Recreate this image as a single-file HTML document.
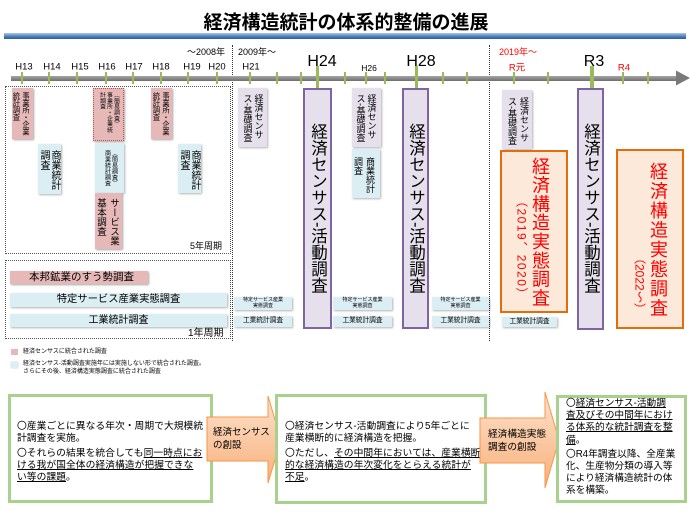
<!DOCTYPE html>
<html><head><meta charset="utf-8">
<style>
body{margin:0;width:690px;height:517px;background:#fff;position:relative;overflow:hidden;font-family:"Liberation Sans","Noto Sans CJK JP",sans-serif;color:#000}
.a{position:absolute}
.c{position:absolute;transform:translate(-50%,-50%);white-space:nowrap;line-height:1}
.v{position:absolute;writing-mode:vertical-rl;text-orientation:mixed;white-space:nowrap}
.pk{position:absolute;background:#e6b9b8;box-shadow:1px 1px 2px rgba(0,0,0,.35)}
.bl{position:absolute;background:#dbeef4;box-shadow:1px 1px 2px rgba(0,0,0,.3)}
.lv{position:absolute;background:#e6e0ec;box-shadow:1px 1px 2px rgba(0,0,0,.3)}
.pu{position:absolute;background:#e6e0ec;border:2px solid #8064a2;box-sizing:border-box}
.or{position:absolute;background:#fde9d9;border:2.5px solid #e46c0a;box-sizing:border-box}
.gb{position:absolute;border:3px solid #a9d18e;box-sizing:border-box;background:#fff}
.t{position:absolute;height:4.5px;top:76px}
.tk{position:absolute;background:#9bbb59;width:2px;top:72px;height:12px}
.tb{position:absolute;background:#9bbb59;width:3.5px;top:66px;height:23px}
.yl{position:absolute;transform:translate(-50%,-50%);font-size:9.5px;line-height:1;top:67px;white-space:nowrap}
.yb{position:absolute;transform:translate(-50%,-50%);font-size:16px;line-height:1;top:62px;white-space:nowrap}
.sm{display:flex;align-items:center;justify-content:center;text-align:center;white-space:nowrap}
.bt{position:absolute;white-space:nowrap;font-size:9.8px;line-height:12.3px}
.o{font-family:"Noto Sans CJK JP",sans-serif}
u{text-decoration:underline;text-decoration-thickness:1px;text-underline-offset:1px}
</style></head><body>

<!-- title -->
<div class="c" style="left:346px;top:23px;font-size:19px;font-weight:bold;">経済構造統計の体系的整備の進展</div>
<div class="a" style="left:4px;top:33px;width:682px;height:6px;background:linear-gradient(#a9c8ea,#4f81bd 55%,#2f5a8f);"></div>

<!-- era labels -->
<div class="a" style="left:187px;top:47px;font-size:9px;line-height:10px;white-space:nowrap">～2008年</div>
<div class="a" style="left:238px;top:47px;font-size:9px;line-height:10px;white-space:nowrap">2009年～</div>
<div class="a" style="left:499px;top:47px;font-size:9px;line-height:10px;white-space:nowrap;color:#f00">2019年～</div>

<!-- dividers -->
<div class="a" style="left:232px;top:45px;height:296px;border-left:1.5px dotted #333"></div>
<div class="a" style="left:489px;top:45px;height:296px;border-left:1.5px dotted #333"></div>

<!-- timeline -->
<div class="t" style="left:11px;width:667px;background:linear-gradient(#a6a6a6,#6e6e6e)"></div>
<svg class="a" style="left:0;top:0" width="690" height="100"><polygon points="676,70.5 690,78 676,85.5" fill="#7a7a7a"/></svg>

<div class="tk" style="left:21px"></div><div class="tk" style="left:48px"></div><div class="tk" style="left:76px"></div>
<div class="tk" style="left:105px"></div><div class="tk" style="left:132px"></div><div class="tk" style="left:160px"></div>
<div class="tk" style="left:187px"></div><div class="tk" style="left:216px"></div><div class="tk" style="left:249px"></div>
<div class="tk" style="left:276px"></div><div class="tk" style="left:300px"></div><div class="tk" style="left:344px"></div>
<div class="tk" style="left:365px"></div><div class="tk" style="left:384px"></div><div class="tk" style="left:442px"></div>
<div class="tk" style="left:466px"></div><div class="tk" style="left:513px"></div><div class="tk" style="left:547px"></div>
<div class="tk" style="left:622px"></div><div class="tk" style="left:647px"></div>
<div class="tb" style="left:315.5px"></div><div class="tb" style="left:414.5px"></div><div class="tb" style="left:590px"></div>

<div class="yl" style="left:24px">H13</div><div class="yl" style="left:52px">H14</div><div class="yl" style="left:80px">H15</div>
<div class="yl" style="left:107px">H16</div><div class="yl" style="left:134px">H17</div><div class="yl" style="left:161px">H18</div>
<div class="yl" style="left:192px">H19</div><div class="yl" style="left:217px">H20</div><div class="yl" style="left:251px">H21</div>
<div class="yl" style="left:369px;font-size:8.5px;top:68px">H26</div>
<div class="yl" style="left:517px;color:#f00;top:68px">R元</div>
<div class="yl" style="left:624px;color:#f00;top:68px">R4</div>
<div class="yb" style="left:322px">H24</div><div class="yb" style="left:421px">H28</div><div class="yb" style="left:594px">R3</div>

<!-- left dotted boxes -->
<div class="a" style="left:5px;top:86px;width:224px;height:166px;border:1px dotted #555"></div>
<div class="a" style="left:190px;top:241px;font-size:9px;line-height:11px;white-space:nowrap">5年周期</div>
<div class="a" style="left:5px;top:260px;width:224px;height:77px;border:1px dotted #555"></div>
<div class="a" style="left:188px;top:328px;font-size:10px;line-height:12px;white-space:nowrap">1年周期</div>

<!-- left area 5-year boxes -->
<div class="pk" style="left:12px;top:88px;width:21px;height:51px"></div>
<div class="v" style="left:12px;top:92px;font-size:7.2px;line-height:9.5px">事業所・企業<br>統計調査</div>

<div class="pk" style="left:93px;top:88px;width:31px;height:53px;border:1px dotted #c0504d;box-sizing:border-box"></div>
<div class="v" style="left:97.5px;top:92px;font-size:5.8px;line-height:7px">（簡易調査）<br>事業所・企業統<br>計調査</div>

<div class="pk" style="left:151px;top:88px;width:21px;height:51px"></div>
<div class="v" style="left:152px;top:92px;font-size:7.2px;line-height:9.5px">事業所・企業<br>統計調査</div>

<div class="bl" style="left:38px;top:144px;width:23px;height:50px"></div>
<div class="v" style="left:38px;top:150px;font-size:10px;line-height:11px">商業統計<br>調査</div>

<div class="bl" style="left:95px;top:143px;width:29px;height:50px"></div>
<div class="v" style="left:102.5px;top:150px;font-size:6px;line-height:7px">（簡易調査）<br>商業統計調査</div>

<div class="pk" style="left:95px;top:193px;width:27px;height:56px"></div>
<div class="v" style="left:94px;top:198px;font-size:9.5px;line-height:13px">サービス業<br>基本調査</div>

<div class="bl" style="left:178px;top:144px;width:23px;height:49px"></div>
<div class="v" style="left:178px;top:150px;font-size:10px;line-height:11px">商業統計<br>調査</div>

<!-- left area 1-year strips -->
<div class="pk sm" style="left:10px;top:271px;width:138px;height:13px;justify-content:flex-start"><span style="font-size:10.5px;line-height:1;margin-left:19px">本邦鉱業のすう勢調査</span></div>
<div class="bl sm" style="left:10px;top:293px;width:217px;height:14px"><span style="font-size:10.3px;line-height:1">特定サービス産業実態調査</span></div>
<div class="bl sm" style="left:10px;top:314px;width:217px;height:13px"><span style="font-size:10px;line-height:1">工業統計調査</span></div>

<!-- legend -->
<div class="a" style="left:11px;top:349px;width:7px;height:6px;background:#e6b9b8"></div>
<div class="a" style="left:23px;top:349px;font-size:6px;line-height:7px;white-space:nowrap">経済センサスに統合された調査</div>
<div class="a" style="left:11px;top:362px;width:7px;height:6px;background:#dbeef4;box-shadow:0 0 1px #aaa"></div>
<div class="a" style="left:23px;top:360px;font-size:6px;line-height:8px;white-space:nowrap">経済センサス-活動調査実施年には実施しない形で統合された調査。<br>さらにその後、経済構造実態調査に統合された調査</div>

<!-- middle -->
<div class="lv" style="left:238px;top:88px;width:29px;height:59px"></div>
<div class="v" style="left:241.5px;top:94px;font-size:9px;line-height:11px">経済センサ<br>ス-基礎調査</div>

<div class="pu" style="left:303px;top:88px;width:29px;height:241px"></div>
<div class="v" style="left:308.5px;top:123px;font-size:16.5px;line-height:18px">経済センサス-活動調査</div>

<div class="lv" style="left:352px;top:88px;width:29px;height:59px"></div>
<div class="v" style="left:354.5px;top:94px;font-size:9px;line-height:11px">経済センサ<br>ス-基礎調査</div>

<div class="bl" style="left:352px;top:149px;width:28px;height:49px"></div>
<div class="v" style="left:352px;top:157px;font-size:9px;line-height:12px">商業統計<br>調査</div>

<div class="pu" style="left:402px;top:88px;width:27px;height:241px"></div>
<div class="v" style="left:406.5px;top:123px;font-size:16.5px;line-height:18px">経済センサス-活動調査</div>

<!-- small pairs -->
<div class="bl sm" style="left:234px;top:297px;width:58px;height:13px"><span style="font-size:5px;line-height:5.5px">特定サービス産業<br>実態調査</span></div>
<div class="bl sm" style="left:234px;top:316px;width:58px;height:11px"><span style="font-size:6.7px;line-height:1">工業統計調査</span></div>
<div class="bl sm" style="left:333px;top:297px;width:59px;height:13px"><span style="font-size:5px;line-height:5.5px">特定サービス産業<br>実態調査</span></div>
<div class="bl sm" style="left:333px;top:316px;width:59px;height:11px"><span style="font-size:6.7px;line-height:1">工業統計調査</span></div>
<div class="bl sm" style="left:432px;top:297px;width:57px;height:13px"><span style="font-size:5px;line-height:5.5px">特定サービス産業<br>実態調査</span></div>
<div class="bl sm" style="left:432px;top:316px;width:57px;height:11px"><span style="font-size:6.7px;line-height:1">工業統計調査</span></div>

<!-- right -->
<div class="lv" style="left:502px;top:90px;width:30px;height:59px"></div>
<div class="v" style="left:506px;top:97px;font-size:9px;line-height:12px">経済センサ<br>ス-基礎調査</div>

<div class="or" style="left:500px;top:150px;width:68px;height:163px"></div>
<div class="v" style="left:531px;top:157px;font-size:18px;line-height:18px;letter-spacing:0.8px;color:#f00">経済構造実態調査</div>
<div class="v" style="left:514.5px;top:195px;font-size:12px;line-height:13px;letter-spacing:1.5px;color:#f00">（2019、2020）</div>

<div class="pu" style="left:577px;top:88px;width:27px;height:242px"></div>
<div class="v" style="left:581.5px;top:123px;font-size:16.5px;line-height:18px">経済センサス-活動調査</div>

<div class="or" style="left:616px;top:149px;width:68px;height:180px"></div>
<div class="v" style="left:649px;top:162px;font-size:18px;line-height:18px;letter-spacing:1.5px;color:#f00">経済構造実態調査</div>
<div class="v" style="left:632.5px;top:252px;font-size:12px;line-height:13px;color:#f00">（2022～）</div>

<div class="bl sm" style="left:502px;top:317px;width:55px;height:10px"><span style="font-size:6.7px;line-height:1">工業統計調査</span></div>

<!-- bottom -->
<div class="gb" style="left:8px;top:394px;width:205px;height:109px"></div>
<div class="bt" style="left:17px;top:419px"><span class="o">〇</span>産業ごとに異なる年次・周期で大規模統<br>計調査を実施。<br><span class="o">〇</span>それらの結果を統合しても<u>同一時点にお</u><br><u>ける我が国全体の経済構造が把握できな</u><br><u>い等の課題</u>。</div>

<svg class="a" style="left:0;top:0" width="690" height="517">
<defs><linearGradient id="g1" x1="0" y1="0" x2="0" y2="1"><stop offset="0" stop-color="#fde2cc"/><stop offset="1" stop-color="#f8b07c"/></linearGradient></defs>
<polygon points="207,417 268,417 268,396 281,440 268,483 268,461 207,461" fill="url(#g1)" stroke="#f79646" stroke-width="1"/>
</svg>
<div class="a" style="left:213px;top:426px;font-size:9.5px;line-height:13px;white-space:nowrap">経済センサス<br>の創設</div>

<div class="gb" style="left:275px;top:394px;width:212px;height:110px"></div>
<div class="bt" style="left:285px;top:419px"><span class="o">〇</span>経済センサス-活動調査により5年ごとに<br>産業横断的に経済構造を把握。<br><span class="o">〇</span>ただし、<u>その中間年においては、産業横断</u><br><u>的な経済構造の年次変化をとらえる統計が</u><br><u>不足</u>。</div>

<svg class="a" style="left:0;top:0" width="690" height="517">
<defs><linearGradient id="g2" x1="0" y1="0" x2="0" y2="1"><stop offset="0" stop-color="#fde2cc"/><stop offset="1" stop-color="#f8b07c"/></linearGradient></defs>
<polygon points="480,418 545,418 545,392 559,440 545,488 545,463 480,463" fill="url(#g2)" stroke="#f79646" stroke-width="1"/>
</svg>
<div class="a" style="left:488px;top:428px;font-size:9.7px;line-height:13px;white-space:nowrap">経済構造実態<br>調査の創設</div>

<div class="gb" style="left:556px;top:395px;width:131px;height:108px"></div>
<div class="bt" style="left:566px;top:396px;font-size:9.7px;line-height:12.2px"><span class="o">〇</span><u>経済センサス-活動調</u><br><u>査及びその中間年におけ</u><br><u>る体系的な統計調査を整</u><br><u>備</u>。<br><span class="o">〇</span>R4年調査以降、全産業<br>化、生産物分類の導入等<br>により経済構造統計の体<br>系を構築。</div>

</body></html>
